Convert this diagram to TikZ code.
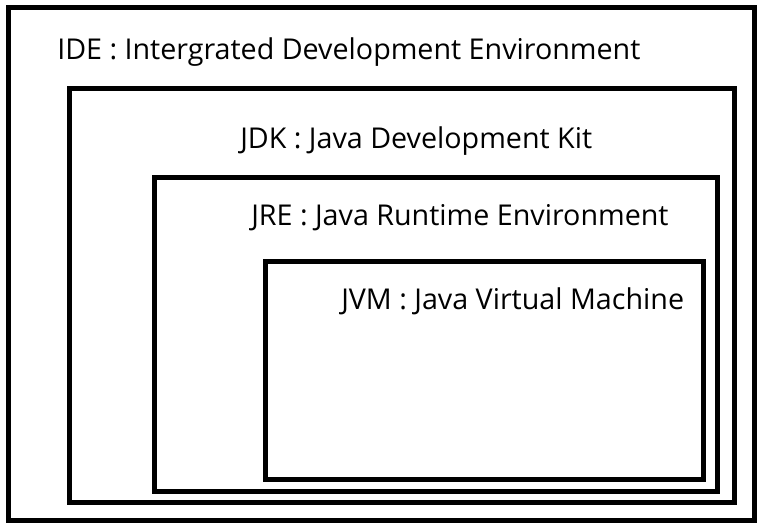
\documentclass[tikz,border=0pt]{standalone}
\usepackage{fontspec}
\setmainfont{Open Sans}
\begin{document}
\begin{tikzpicture}[x=0.75pt,y=-0.75pt,
  box/.style={draw=black,line width=3.75pt},
  lbl/.style={anchor=base west,inner sep=0pt,font=\fontsize{21.5}{24}\selectfont,text=black}]
\useasboundingbox (0,0) rectangle (764,531);
\draw[box] (8.5,8) rectangle (754.5,520);
\draw[box] (69,88.5) rectangle (734,502);
\draw[box] (154,177.5) rectangle (717.5,491);
\draw[box] (265,261) rectangle (703.5,479);
\node[lbl] (ide) at (57,60) {IDE : Intergrated Development Environment};
\node[lbl] (jdk) at (240,149) {JDK : Java Development Kit};
\node[lbl] (jre) at (251,225) {JRE : Java Runtime Environment};
\node[lbl] (jvm) at (341,309) {JVM : Java Virtual Machine};
\end{tikzpicture}
\end{document}
